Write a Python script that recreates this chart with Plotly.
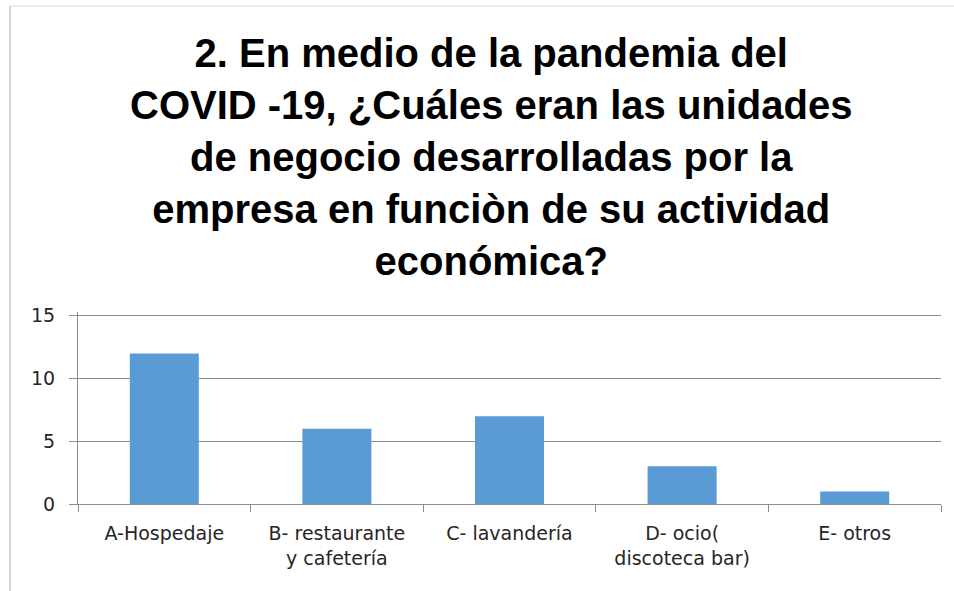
import plotly.graph_objects as go

categories = ["A-Hospedaje", "B- restaurante<br>y cafetería", "C- lavandería",
              "D- ocio(<br>discoteca bar)", "E- otros"]
values = [12, 6, 7, 3, 1]
y_ticks = [0, 5, 10, 15]
title_lines = ["2. En medio de la pandemia del",
               "COVID -19, ¿Cuáles eran las unidades",
               "de negocio desarrolladas por la",
               "empresa en funciòn de su actividad",
               "económica?"]

fig = go.Figure(go.Bar(x=categories, y=values, marker=dict(color="#5B9BD5", line=dict(width=0)),
                       width=0.4))

W, H = 954, 591
L, R, T, B = 78, 13, 312, 87
pw = W - L - R
ph = H - T - B


def px_x(x):
    return (x - L) / pw


def px_y(y):
    return 1 + (T - y) / ph


fig.update_layout(
    width=W, height=H,
    margin=dict(l=L, r=R, t=T, b=B, autoexpand=False),
    paper_bgcolor="white", plot_bgcolor="white",
    showlegend=False,
    font=dict(family="DejaVu Sans, sans-serif", size=19, color="#262626"),
)
fig.add_annotation(text="<br>".join(title_lines), xref="paper", yref="paper",
                   x=px_x(491), y=px_y(157), xanchor="center", yanchor="middle",
                   showarrow=False, align="center",
                   font=dict(family="Liberation Sans, Arial, sans-serif", size=40,
                             color="black", weight="bold"))
fig.update_yaxes(range=[0, 15.3], tickvals=y_ticks, showgrid=True, gridcolor="#8c8c8c", gridwidth=1,
                 showline=True, linecolor="#8c8c8c", linewidth=1, ticks="outside", ticklen=8,
                 tickcolor="#8c8c8c", zeroline=False, ticklabelstandoff=10,
                 tickfont=dict(size=19, color="#262626"))
fig.update_xaxes(showline=True, linecolor="#8c8c8c", linewidth=1, ticks="outside", ticklen=7,
                 tickcolor="#8c8c8c", tickson="boundaries", showgrid=False, ticklabelstandoff=12,
                 tickfont=dict(size=19, color="#262626"))

# chart frame (left and top edges)
fig.add_shape(type="line", xref="paper", yref="paper", x0=px_x(10), x1=px_x(10),
              y0=px_y(H + 5), y1=px_y(6), line=dict(color="#a6a6a6", width=1))
fig.add_shape(type="line", xref="paper", yref="paper", x0=px_x(10), x1=px_x(W + 5),
              y0=px_y(6), y1=px_y(6), line=dict(color="#dcdcdc", width=1))

fig.write_html("out.html", config={"displayModeBar": False},
               post_script="document.body.style.margin='0';document.body.style.padding='0';")
